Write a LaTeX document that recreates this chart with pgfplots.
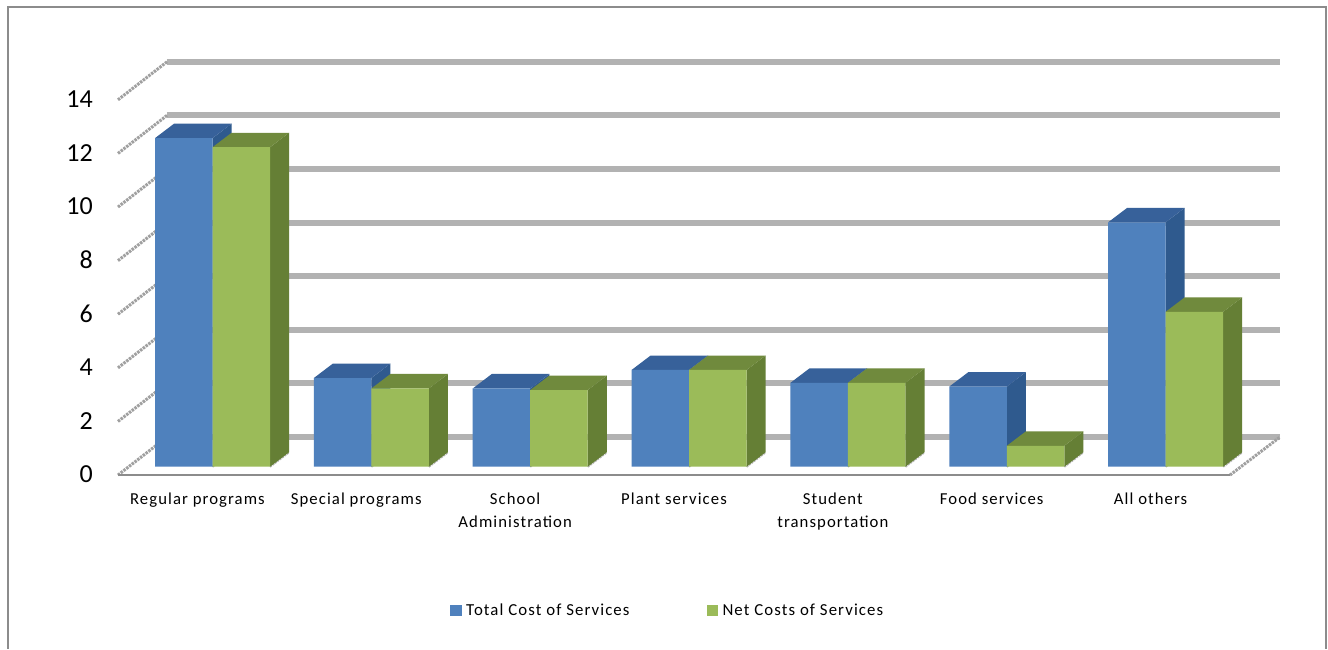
\documentclass[border=0pt]{standalone}
\usepackage{pgfplots}
\usepackage{pgfplotstable}
\usepackage{fontspec}
\pgfplotsset{compat=1.18}
\setmainfont{Carlito}[LetterSpace=6.5]
\newfontfamily\numfont{Carlito}

\definecolor{totalfront}{HTML}{4F81BD}
\definecolor{totaltop}{HTML}{37619A}
\definecolor{totalside}{HTML}{2F5A8E}
\definecolor{netfront}{HTML}{9BBB59}
\definecolor{nettop}{HTML}{708A3D}
\definecolor{netside}{HTML}{657F35}
\definecolor{wallgrid}{HTML}{B2B2B2}
\definecolor{framegray}{HTML}{8C8C8C}

% Cost of services per function, in the units of the vertical axis
\pgfplotstableread{
idx total net
0   12.26 11.92
1   3.31  2.92
2   2.92  2.86
3   3.61  3.61
4   3.13  3.13
5   2.99  0.78
6   9.12  5.78
}\costs

% Depth of a bar, as seen on the page
\def\depthx{0.12}
\def\depthy{0.54}
\def\barw{0.362}

% Top and side faces of one bar: #1 category, #2 value, #3 left offset, #4 top colour, #5 side colour
\newcommand{\depthfaces}[5]{%
  \pgfmathsetmacro\xa{#1+#3}%
  \pgfmathsetmacro\xb{#1+#3+\barw}%
  \pgfmathsetmacro\xc{\xa+\depthx}%
  \pgfmathsetmacro\xd{\xb+\depthx}%
  \pgfmathsetmacro\yb{#2+\depthy}%
  \edef\tmp{%
    \noexpand\addplot[draw=wallgrid,line width=2pt,dash pattern=on 2pt off 1pt,forget plot]
      coordinates {(\xb,0)(\xd,\depthy)};
    \noexpand\addplot[fill=#5,draw=none,forget plot]
      coordinates {(\xb,0)(\xd,\depthy)(\xd,\yb)(\xb,#2)(\xb,0)};
    \noexpand\addplot[fill=#4,draw=none,forget plot]
      coordinates {(\xa,#2)(\xc,\yb)(\xd,\yb)(\xb,#2)(\xa,#2)};
  }\tmp
}

\pgfplotsset{
  squarekey/.style={legend image code/.code={\fill[##1] (0pt,-5.5pt) rectangle (11.5pt,5.5pt);}},
}

\begin{document}
\begin{tikzpicture}[x=1pt,y=1pt]
\begin{axis}[
  scale only axis,
  width=1112pt,
  height=415.67pt,
  xmin=-0.5, xmax=6.5,
  ymin=-0.31, ymax=15.2,
  clip=false,
  axis on top=true,
  axis x line*=bottom,
  axis y line*=left,
  x axis line style={draw=framegray,line width=1.6pt,-},
  y axis line style={draw=none,-},
  major tick length=0pt,
  xtick={0,1,2,3,4,5,6},
  xticklabels={Regular programs,Special programs,{School\\Administration},Plant services,{Student\\transportation},Food services,All others},
  xticklabel style={align=center,anchor=north,font=\fontsize{16.7}{23}\selectfont,inner sep=0pt,yshift=-17.5pt},
  ytick={0,2,...,14},
  /pgf/number format/assume math mode=true,
  yticklabel style={anchor=east,inner sep=0pt,xshift=-25pt,yshift=-7.8pt,font=\numfont\fontsize{26}{26}\selectfont},
  legend columns=2,
  legend style={
    at={(axis cs:1.59,-5.35)},anchor=west,draw=none,fill=none,
    font=\fontsize{16.8}{19}\selectfont,
    /tikz/every even column/.style={column sep=75pt},
    inner sep=0pt},
]
% page background and outer frame, open along the lower edge
\addplot[fill=white,draw=none,forget plot] coordinates {(-1.2428,-6.802)(7.1169,-6.802)(7.1169,17.414)(-1.2428,17.414)};
\addplot[draw=framegray,line width=2pt,forget plot] coordinates {(-1.1926,-6.79)(-1.1926,17.155)(7.1043,17.155)(7.1043,-6.79)};

% back wall grid and its slanted side-wall counterparts
\pgfplotsforeachungrouped \g in {0,2,...,14}{%
  \pgfmathsetmacro\ya{\g-0.31}%
  \pgfmathsetmacro\yb{\g+1.108}%
  \edef\tmp{%
    \noexpand\addplot[draw=wallgrid,line width=6pt,forget plot] coordinates {(-0.1916,\yb)(6.8147,\yb)};
    \noexpand\addplot[draw=wallgrid!90!black,line width=3pt,dash pattern=on 2.5pt off 1pt,forget plot] coordinates {(-0.5,\ya)(-0.1916,\yb)};
  }\tmp
}
\addplot[draw=wallgrid!90!black,line width=3pt,dash pattern=on 2.5pt off 1pt,forget plot] coordinates {(6.5,-0.31)(6.8147,1.108)};

% Total cost: depth faces, then the front faces
\pgfplotsforeachungrouped \r in {0,...,6}{%
  \pgfplotstablegetelem{\r}{total}\of\costs
  \edef\val{\pgfplotsretval}%
  \depthfaces{\r}{\val}{-0.267}{totaltop}{totalside}%
}
\addplot[ybar,bar width=0.362,bar shift=-0.086,fill=totalfront,draw=none,squarekey] table[x=idx,y=total] {\costs};
\addlegendentry{\hspace{2.5pt}Total Cost of Services}

% Net costs: depth faces, then the front faces
\pgfplotsforeachungrouped \r in {0,...,6}{%
  \pgfplotstablegetelem{\r}{net}\of\costs
  \edef\val{\pgfplotsretval}%
  \depthfaces{\r}{\val}{0.095}{nettop}{netside}%
}
\addplot[ybar,bar width=0.362,bar shift=0.276,fill=netfront,draw=none,squarekey] table[x=idx,y=net] {\costs};
\addlegendentry{\hspace{2.5pt}Net Costs of Services}
\end{axis}
\end{tikzpicture}
\end{document}
